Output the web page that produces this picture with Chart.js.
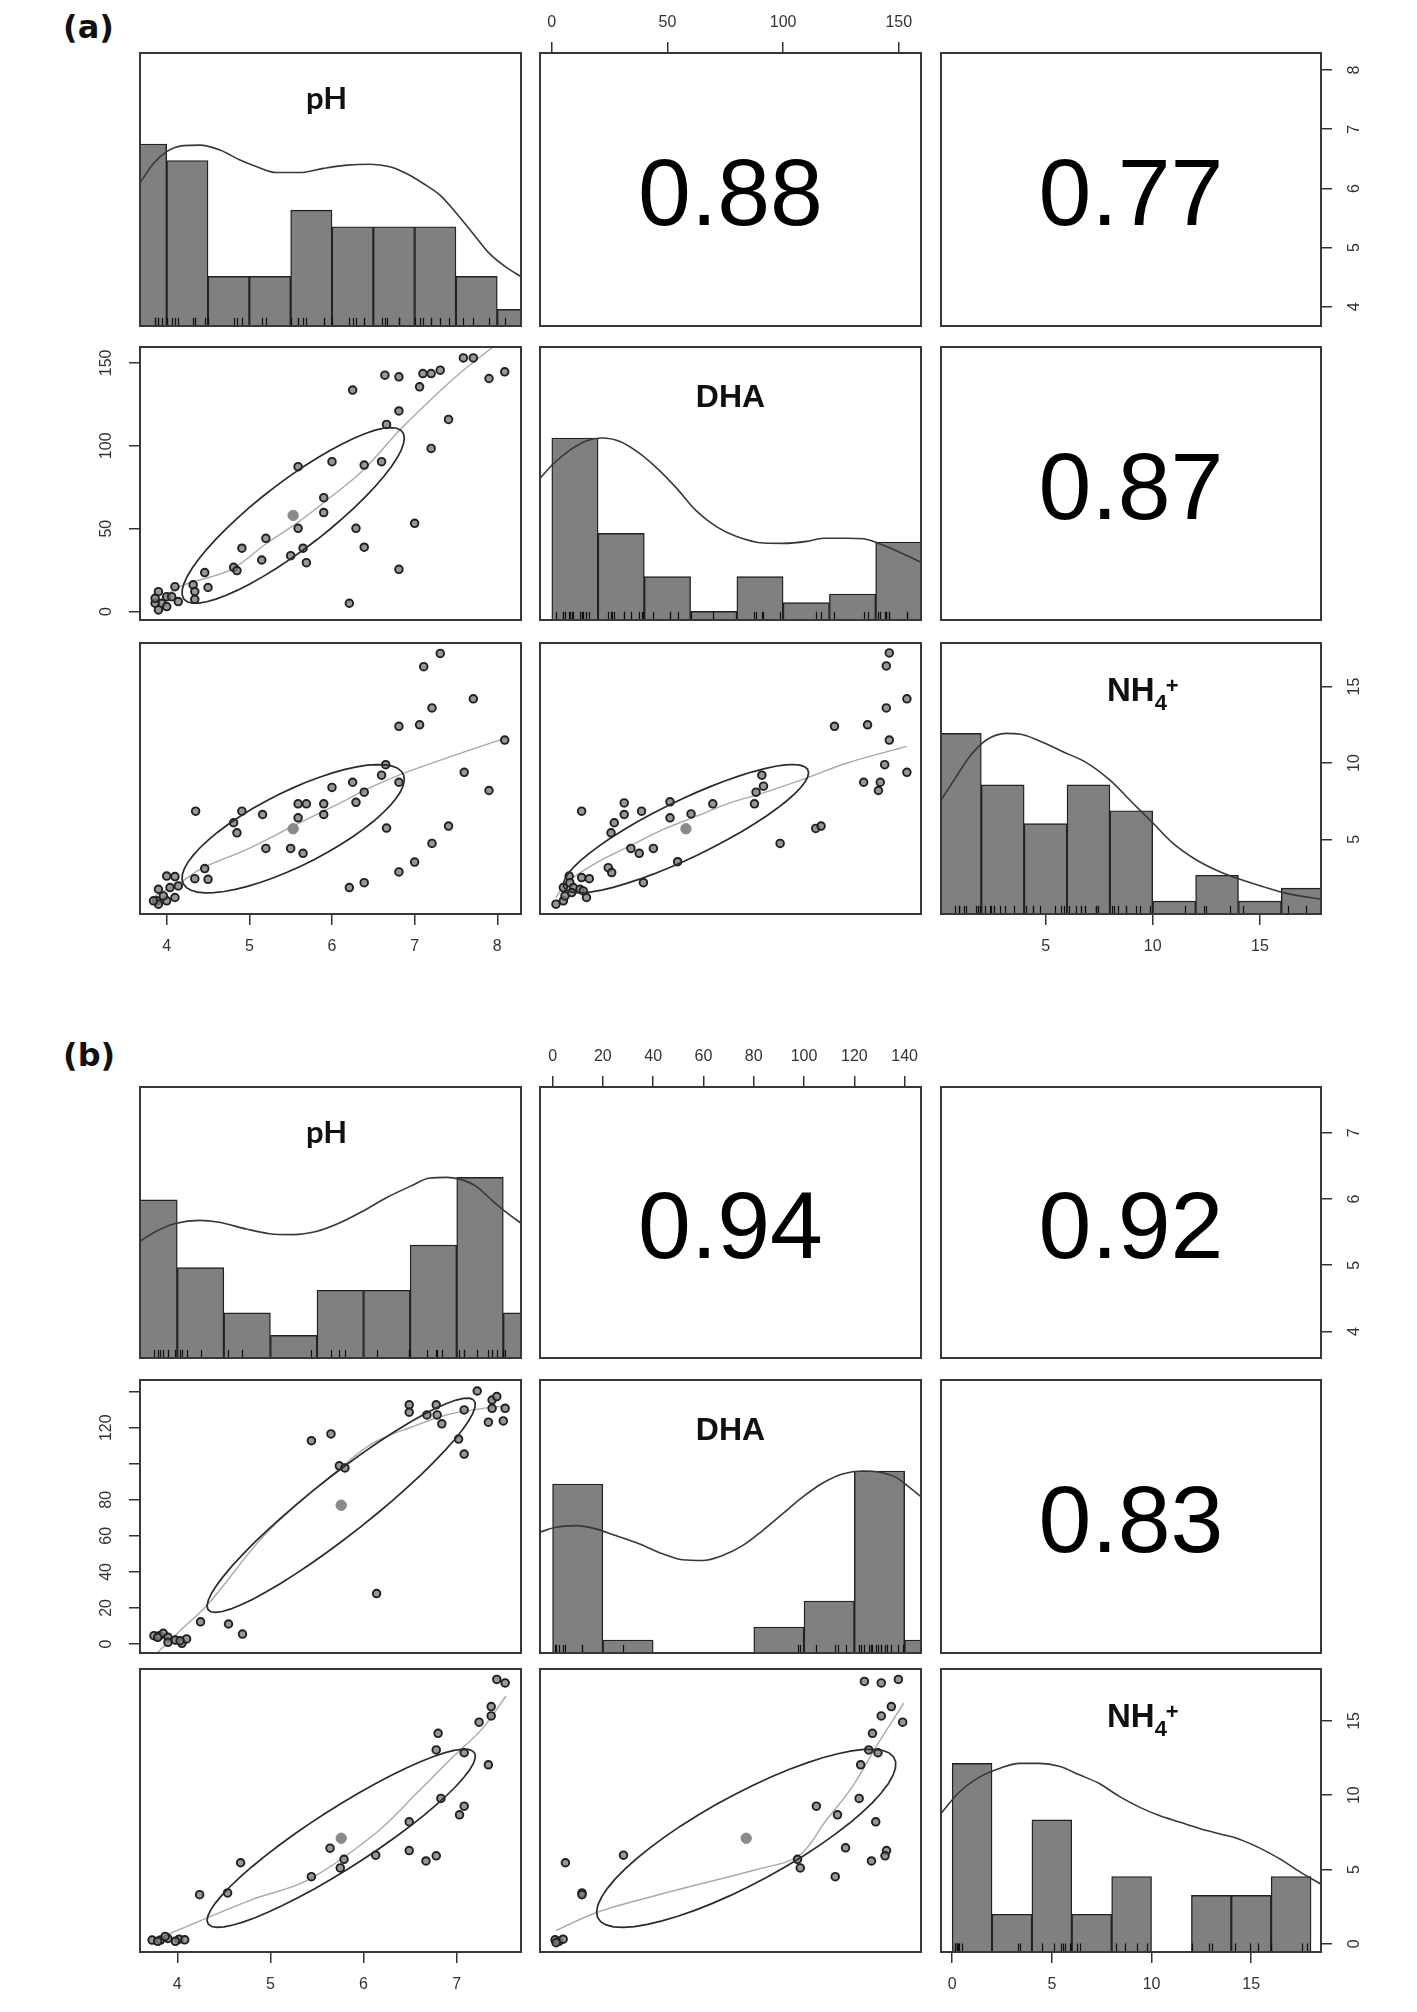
<!DOCTYPE html>
<html>
<head>
<meta charset="utf-8">
<title>pairs panels</title>
<script src="https://cdn.jsdelivr.net/npm/chart.js@4.4.1/dist/chart.umd.min.js"></script>
<style>
  html, body { margin: 0; padding: 0; background: #fff; }
  body { position: relative; width: 1417px; height: 2012px; overflow: hidden; }
  canvas { position: absolute; }
  .tag { position: absolute; left: 63px; font: bold 32px "DejaVu Sans", sans-serif; letter-spacing: 0; color: #111; line-height: 1; }
</style>
</head>
<body>
<div class="tag" style="top: 11px">(a)</div>
<div class="tag" style="top: 1039px">(b)</div>
<script>
// variable order everywhere: pH, DHA, NH4+
const NAMES = ['pH', 'DHA', 'NH4+'];

// axis limits and ticks
const limA = [[3.677, 8.287], [-5.1, 159.6], [0.12, 17.85]];
const ticksA = [[4, 5, 6, 7, 8], [0, 50, 100, 150], [5, 10, 15]];
const limB = [[3.6, 7.69], [-5, 146.5], [-0.56, 18.5]];
const ticksB = [[4, 5, 6, 7], [0, 20, 40, 60, 80, 100, 120, 140], [0, 5, 10, 15]];
const leftLabelsB = [0, 20, 40, 60, 80, 120];

// correlations (pH-DHA, pH-NH4+, DHA-NH4+), means and sds for the ellipses
const corrA = [0.88, 0.77, 0.87];
const corrB = [0.94, 0.92, 0.83];
const meanA = [5.53, 58, 5.7];
const sdA = [1.345, 53, 4.2];
const meanB = [5.76, 77, 7.1];
const sdB = [1.44, 59.5, 6.0];

// histograms
const phBreaksA = [3.5, 4, 4.5, 5, 5.5, 6, 6.5, 7, 7.5, 8, 8.5];
const phCountsA = [11, 10, 3, 3, 7, 6, 6, 6, 3, 1];
const dhaBreaksA = [0, 20, 40, 60, 80, 100, 120, 140, 160];
const dhaCountsA = [21, 10, 5, 1, 5, 2, 3, 9];
const nh4BreaksA = [0, 2, 4, 6, 8, 10, 12, 14, 16, 18];
const nh4CountsA = [14, 10, 7, 10, 8, 1, 3, 1, 2];

const phBreaksB = [3.5, 4, 4.5, 5, 5.5, 6, 6.5, 7, 7.5, 8];
const phCountsB = [7, 4, 2, 1, 3, 3, 5, 8, 2];
const dhaBreaksB = [0, 20, 40, 60, 80, 100, 120, 140, 160];
const dhaCountsB = [13, 1, 0, 0, 2, 4, 14, 1];
const nh4BreaksB = [0, 2, 4, 6, 8, 10, 12, 14, 16, 18];
const nh4CountsB = [10, 2, 7, 2, 4, 0, 3, 3, 4];

// density curves (scaled to max 1)
const densPhA = [[3.677,0.786],[3.84,0.893],[4.0,0.958],[4.2,0.991],[4.4,0.994],[4.645,0.967],[4.887,0.912],[5.09,0.875],[5.33,0.843],[5.61,0.843],[5.895,0.866],[6.18,0.884],[6.46,0.889],[6.7,0.875],[6.9,0.838],[7.105,0.783],[7.31,0.718],[7.51,0.617],[7.71,0.506],[7.91,0.396],[8.11,0.322],[8.29,0.271]];
const densDhaA = [[-5,0.78],[0.6,0.857],[7.8,0.933],[15.1,0.985],[21.5,1.0],[29.5,0.981],[38.1,0.914],[46.8,0.818],[54,0.723],[62.6,0.598],[71.3,0.512],[79.9,0.459],[91.5,0.423],[100.1,0.421],[110.2,0.432],[117.4,0.449],[127.5,0.449],[134.8,0.446],[142,0.417],[149.2,0.379],[160,0.315]];
const densNh4A = [[0.12,0.63],[0.83,0.76],[1.45,0.87],[2.23,0.963],[3.16,1.0],[3.79,0.996],[4.72,0.958],[5.81,0.898],[6.9,0.838],[7.99,0.742],[9.08,0.613],[10.02,0.502],[10.95,0.391],[12.04,0.299],[13.13,0.234],[14.07,0.192],[15.16,0.151],[16.25,0.114],[17.88,0.081]];
const densPhB = [[3.6,0.646],[3.77,0.7],[3.98,0.744],[4.24,0.762],[4.45,0.751],[4.74,0.714],[4.99,0.688],[5.24,0.683],[5.49,0.7],[5.74,0.747],[5.99,0.812],[6.24,0.886],[6.5,0.95],[6.71,0.996],[6.89,1.0],[7.03,0.99],[7.21,0.95],[7.39,0.867],[7.54,0.803],[7.69,0.747]];
const densDhaB = [[-5,0.664],[1.2,0.691],[9.2,0.7],[17.2,0.682],[25.1,0.645],[34.4,0.6],[43.7,0.545],[51.6,0.512],[59.6,0.508],[67.6,0.536],[75.5,0.59],[83.5,0.673],[91.4,0.764],[99.4,0.856],[107.4,0.934],[115.3,0.984],[123.3,1.0],[129.9,0.993],[136.5,0.965],[141.9,0.91],[146.5,0.859]];
const densNh4B = [[-0.56,0.734],[0.36,0.848],[1.36,0.927],[2.37,0.973],[3.37,1.0],[4.37,1.0],[5.37,0.984],[6.38,0.939],[7.38,0.893],[8.38,0.825],[9.39,0.768],[10.39,0.723],[11.39,0.689],[12.4,0.655],[13.4,0.627],[14.4,0.598],[15.41,0.552],[16.41,0.495],[17.41,0.427],[18.5,0.359]];

// scatter points [x, y]
const phDhaA = [[7.59,153],[7.71,153],[8.09,144.6],[7.9,140.6],[6.64,142.6],[6.81,141.6],[7.1,143.6],[7.2,143.6],[7.31,145.6],[7.06,135.6],[6.25,133.6],[6.81,121],[7.41,115.9],[6.66,112.9],[7.2,98.4],[6.0,90.4],[6.39,88.4],[6.6,90.4],[5.59,87.4],[5.9,68.7],[5.9,59.7],[5.59,50.2],[6.29,50.2],[7.0,53.2],[6.39,38.8],[5.2,44.2],[4.91,38.2],[5.15,31.1],[5.5,33.7],[5.65,38.2],[5.69,29.5],[4.81,26.7],[4.85,24.7],[6.81,25.5],[6.21,5.0],[4.46,23.5],[4.5,14.5],[4.32,16.1],[4.34,12.1],[4.34,7.4],[3.9,12],[4.1,15],[4.0,9],[3.94,5],[3.86,5],[3.9,1],[4.0,3],[4.14,6],[4.06,9],[3.86,8]];
const phNh4A = [[7.31,17.17],[7.11,16.3],[7.71,14.2],[7.21,13.6],[6.81,12.4],[7.06,12.5],[8.09,11.5],[7.6,9.39],[7.9,8.2],[6.65,9.89],[6.6,9.2],[6.81,8.74],[6.25,8.74],[6.0,8.4],[6.39,8.09],[6.29,7.43],[5.9,7.33],[5.9,6.63],[5.59,7.33],[5.69,7.33],[5.59,6.41],[5.16,6.63],[4.91,6.85],[4.81,6.09],[4.85,5.43],[4.35,6.85],[6.66,5.74],[5.2,4.41],[5.5,4.41],[5.65,4.09],[7.41,5.87],[7.21,4.74],[7.0,3.52],[6.81,2.87],[6.39,2.17],[6.21,1.85],[4.46,3.09],[4.34,2.43],[4.5,2.39],[4.0,2.6],[4.1,2.57],[4.14,1.96],[4.04,1.85],[3.9,1.74],[4.1,1.2],[4.0,0.98],[3.88,0.98],[3.9,0.76],[3.96,1.3],[3.84,0.98]];
const dhaNh4A = [[145.9,17.2],[144.6,16.35],[153.5,14.2],[144.6,13.6],[122.2,12.4],[136.5,12.5],[145.9,11.5],[153.5,9.39],[143.9,9.89],[134.8,8.74],[142,8.74],[141.2,8.2],[90.8,9.2],[91.5,8.48],[88.3,8.09],[87.6,7.33],[69.6,7.33],[60.2,6.67],[51.1,7.46],[51.1,6.41],[38.8,6.85],[31.3,7.39],[31.3,6.63],[27.0,6.09],[25.6,5.43],[12.9,6.85],[98.7,4.74],[114.1,5.72],[116.4,5.87],[34.2,4.41],[37.8,4.09],[43.9,4.41],[54.4,3.54],[24.4,3.15],[25.9,2.83],[39.6,2.17],[12.9,2.5],[16.2,2.43],[7.5,2.6],[7.8,2.17],[9.3,1.85],[5.0,1.85],[12.2,1.74],[15.0,1.2],[5.0,0.98],[1.8,0.76],[5.7,1.3],[8.6,1.52],[13.6,1.63]];

const phDhaB = [[7.22,140.4],[7.38,135.4],[7.43,137.3],[7.38,130.8],[7.52,130.8],[7.34,123.1],[7.5,123.8],[7.08,129.9],[6.49,132.7],[6.49,128.6],[6.68,127.1],[6.78,132.7],[6.79,127.1],[6.84,122.2],[7.02,113.7],[7.08,105.4],[5.44,112.8],[5.65,116.6],[5.74,98.9],[5.8,97.7],[6.14,28.0],[4.25,12.3],[4.55,11.1],[4.7,5.5],[3.75,4.6],[3.81,4.6],[3.85,5.9],[3.9,3.7],[3.9,0.9],[3.98,2.2],[4.05,0.4],[4.1,2.8],[3.79,3.7],[4.03,1.8]];
const phNh4B = [[7.43,17.8],[7.52,17.56],[7.37,15.97],[7.37,15.34],[7.24,14.92],[6.8,14.17],[6.78,13.05],[7.08,12.86],[7.34,12.05],[6.83,9.78],[7.08,9.26],[7.03,8.68],[6.49,8.21],[6.49,6.27],[6.67,5.57],[6.78,5.92],[6.13,5.96],[5.64,6.43],[5.79,5.68],[5.75,5.1],[5.44,4.51],[4.68,5.45],[4.54,3.42],[4.24,3.3],[3.73,0.24],[3.82,0.24],[3.9,0.35],[4.02,0.3],[4.08,0.26],[3.79,0.16],[3.98,0.16],[3.87,0.49]];
const dhaNh4B = [[124.0,17.66],[130.7,17.56],[137.5,17.8],[134.7,15.97],[130.7,15.34],[139.2,14.92],[127.2,14.17],[125.7,13.05],[129.4,12.86],[122.5,12.05],[121.9,9.78],[104.9,9.26],[113.3,8.68],[128.5,8.21],[116.5,6.46],[132.8,6.27],[126.8,5.57],[132.2,5.92],[97.4,5.68],[98.5,5.1],[112.4,4.51],[28.2,5.96],[5.1,5.45],[11.7,3.42],[11.7,3.3],[1.0,0.26],[2.5,0.16],[4.2,0.3],[1.4,0.07]];

// smoothers
const loessPhDhaA = [[3.88,5],[4.16,15.1],[4.77,25.1],[5.21,41.2],[5.57,53.2],[5.94,67.3],[6.38,85.4],[6.82,109.5],[7.23,129.5],[7.59,145.6],[7.95,159.7]];
const loessPhNh4A = [[3.86,1.3],[4.16,2.17],[4.44,3.15],[4.97,4.35],[5.53,5.87],[6.02,7.17],[6.5,8.48],[6.88,9.35],[7.39,10.33],[8.1,11.63]];
const loessDhaNh4A = [[1.8,1.2],[6.4,2.17],[19.4,3.48],[33.8,4.57],[48.2,5.65],[62.6,6.52],[77.1,7.39],[91.5,8.04],[110.3,9.02],[127.6,10.0],[153.5,11.09]];
const loessPhDhaB = [[3.78,-5.2],[4.03,7.4],[4.33,22.1],[4.96,61.7],[5.71,95.8],[6.1,111.5],[6.53,120.7],[6.89,127.1],[7.25,130.5],[7.5,132.1]];
const loessPhNh4B = [[3.82,0.42],[4.31,1.71],[4.81,2.99],[5.4,4.28],[6.13,7.44],[6.57,10.13],[6.98,12.7],[7.27,14.45],[7.53,16.68]];
const loessDhaNh4B = [[1.4,0.89],[18.6,2.17],[48.6,3.58],[80.7,4.98],[97.9,5.92],[108.6,8.26],[119.3,10.6],[130.0,13.64],[139.7,16.21]];

const INK = '#333333';
const FRAME = '#383838';
const COLS = [[140, 521], [540, 921], [941, 1321]];
const M = 60;   // canvas margin round each panel
const AX = 48;  // room kept for a horizontal axis with labels

const figures = [
  {
    rows: [[53, 326], [347, 620], [643, 914]],
    lim: limA, ticks: ticksA, leftLabels: ticksA[1],
    hist: [[phBreaksA, phCountsA], [dhaBreaksA, dhaCountsA], [nh4BreaksA, nh4CountsA]],
    dens: [densPhA, densDhaA, densNh4A],
    pts: { '1,0': phDhaA, '2,0': phNh4A, '2,1': dhaNh4A },
    smooth: { '1,0': loessPhDhaA, '2,0': loessPhNh4A, '2,1': loessDhaNh4A },
    mean: meanA, sd: sdA, corr: corrA
  },
  {
    rows: [[1087, 1358], [1380, 1653], [1669, 1952]],
    lim: limB, ticks: ticksB, leftLabels: leftLabelsB,
    hist: [[phBreaksB, phCountsB], [dhaBreaksB, dhaCountsB], [nh4BreaksB, nh4CountsB]],
    dens: [densPhB, densDhaB, densNh4B],
    pts: { '1,0': phDhaB, '2,0': phNh4B, '2,1': dhaNh4B },
    smooth: { '1,0': loessPhDhaB, '2,0': loessPhNh4B, '2,1': loessDhaNh4B },
    mean: meanB, sd: sdB, corr: corrB
  }
];

function axis(lim, ticks, pos, show) {
  const horiz = pos === 'top' || pos === 'bottom';
  return {
    type: 'linear', axis: horiz ? 'x' : 'y', position: pos,
    min: lim[0], max: lim[1], display: show, offset: false,
    afterBuildTicks: s => { s.ticks = ticks.map(v => ({ value: v })); },
    afterFit: s => { if (horiz) s.height = show ? AX : 0; else s.width = 0; },
    grid: { display: true, drawOnChartArea: false, drawTicks: true, tickLength: 11, color: INK, lineWidth: 1.5, offset: false },
    border: { display: false },
    ticks: {
      display: horiz, autoSkip: false, maxRotation: 0, minRotation: 0,
      padding: pos === 'top' ? 10 : 12, color: INK,
      font: { family: 'Liberation Sans', size: 16 }
    }
  };
}

function rugValues(fig, v) {
  if (v === 0) return fig.pts['1,0'].map(p => p[0]);
  if (v === 1) return fig.pts['2,1'].map(p => p[0]);
  return fig.pts['2,0'].map(p => p[1]);
}

function drawName(ctx, a, v) {
  ctx.fillStyle = '#111';
  ctx.textBaseline = 'alphabetic';
  if (v === 0) {
    ctx.font = 'bold 31px Lato';
    ctx.textAlign = 'center';
    ctx.fillText(NAMES[0], a.left + a.width / 2 - 4, a.top + 56);
  } else if (v === 1) {
    ctx.font = 'bold 32px "Liberation Sans"';
    ctx.textAlign = 'center';
    ctx.fillText(NAMES[1], a.left + a.width / 2, a.top + 60);
  } else {
    const x = a.left + 166, y = a.top + 58;
    ctx.textAlign = 'left';
    ctx.font = 'bold 33px "Liberation Sans"';
    ctx.fillText('NH', x, y);
    const w = ctx.measureText('NH').width;
    ctx.font = 'bold 22px "Liberation Sans"';
    ctx.fillText('4', x + w, y + 9);
    ctx.fillText('+', x + w + 11, y - 8);
  }
}

function makePlugin(o) {
  return {
    id: 'pp',
    afterDatasetsDraw(chart) {
      const { ctx, chartArea: a } = chart;
      const xs = chart.scales.x, ys = chart.scales.y;
      ctx.save();
      ctx.beginPath();
      ctx.rect(a.left, a.top, a.width, a.height);
      ctx.clip();
      if (o.rug) {
        ctx.strokeStyle = '#111';
        ctx.lineWidth = 1.2;
        const len = a.height * 0.03;
        o.rug.forEach(v => {
          const px = Math.round(xs.getPixelForValue(v)) + 0.5;
          ctx.beginPath();
          ctx.moveTo(px, a.bottom);
          ctx.lineTo(px, a.bottom - len);
          ctx.stroke();
        });
      }
      if (o.ell) {
        // correlation ellipse, one sd round the means
        const { xm, ym, xsd, ysd, r } = o.ell;
        const th = 1 / Math.sqrt(2), p = Math.sqrt(1 + r), q = Math.sqrt(1 - r);
        ctx.beginPath();
        for (let k = 0; k <= 51; k++) {
          const t = k * 2 * Math.PI / 51, c = Math.cos(t), s = Math.sin(t);
          const ex = (c * p * th - s * q * th) * xsd + xm;
          const ey = (c * p * th + s * q * th) * ysd + ym;
          const px = xs.getPixelForValue(ex), py = ys.getPixelForValue(ey);
          if (k) ctx.lineTo(px, py); else ctx.moveTo(px, py);
        }
        ctx.strokeStyle = '#2a2a2a';
        ctx.lineWidth = 1.7;
        ctx.stroke();
      }
      ctx.restore();
    },
    afterDraw(chart) {
      const { ctx, chartArea: a } = chart;
      ctx.save();
      ctx.strokeStyle = FRAME;
      ctx.lineWidth = 2;
      ctx.strokeRect(a.left, a.top, a.width, a.height);
      if (o.corr != null) {
        ctx.fillStyle = '#000';
        ctx.font = '95px "Liberation Sans"';
        ctx.textAlign = 'center';
        ctx.textBaseline = 'middle';
        ctx.fillText(o.corr.toFixed(2), a.left + a.width / 2, a.top + a.height / 2 + 9);
      }
      if (o.name != null) drawName(ctx, a, o.name);
      if (o.rot) {
        // vertical axis labels, read bottom to top as in R
        const s = chart.scales[o.rot.id];
        ctx.fillStyle = INK;
        ctx.font = '16px "Liberation Sans"';
        ctx.textAlign = 'center';
        ctx.textBaseline = 'middle';
        const x = o.rot.side === 'right' ? a.right + 34 : a.left - 33;
        s.ticks.forEach(t => {
          if (!o.rot.labels.includes(t.value)) return;
          ctx.save();
          ctx.translate(x, s.getPixelForValue(t.value));
          ctx.rotate(-Math.PI / 2);
          ctx.fillText(String(t.value), 0, 0);
          ctx.restore();
        });
      }
      ctx.restore();
    }
  };
}

function panel(fig, i, j) {
  const [x0, x1] = COLS[j], [y0, y1] = fig.rows[i];
  const w = x1 - x0 + 2 * M, h = y1 - y0 + 2 * M;
  const cv = document.createElement('canvas');
  cv.width = w; cv.height = h;
  cv.style.left = (x0 - M) + 'px';
  cv.style.top = (y0 - M) + 'px';
  cv.style.width = w + 'px';
  cv.style.height = h + 'px';
  document.body.appendChild(cv);

  const xp = (i === 0 && j === 1) ? 'top' : (i === 2 && j !== 1) ? 'bottom' : null;
  const yp = (j === 0 && i === 1) ? 'left' : (j === 2 && i !== 1) ? 'right' : null;
  const yLabels = yp === 'left' ? fig.leftLabels : fig.ticks[i];
  const scales = { x: axis(fig.lim[j], fig.ticks[j], xp || 'bottom', !!xp) };
  const o = {};
  const datasets = [];
  let type = 'scatter';

  if (i === j) {
    type = 'bar';
    scales.y = { type: 'linear', axis: 'y', min: 0, max: 1.5, display: false };
    if (yp) {
      scales.yv = axis(fig.lim[i], fig.ticks[i], yp, true);
      o.rot = { id: 'yv', side: yp, labels: yLabels };
    }
    const [br, cnt] = fig.hist[i];
    const top = Math.max(...cnt);
    datasets.push({
      type: 'line', xAxisID: 'x', yAxisID: 'y',
      data: fig.dens[i].map(([x, y]) => ({ x, y })),
      borderColor: '#383838', borderWidth: 1.6, pointRadius: 0,
      cubicInterpolationMode: 'monotone', fill: false, clip: 0
    });
    datasets.push({
      type: 'bar', xAxisID: 'x', yAxisID: 'y',
      data: cnt.map((c, k) => ({ x: (br[k] + br[k + 1]) / 2, y: c / top })),
      backgroundColor: '#808080', borderColor: '#222222', borderWidth: 1.4,
      borderSkipped: false, barPercentage: 1, categoryPercentage: 1, clip: 0
    });
    o.rug = rugValues(fig, i);
    o.name = i;
  } else {
    scales.y = axis(fig.lim[i], fig.ticks[i], yp || 'left', !!yp);
    if (yp) o.rot = { id: 'y', side: yp, labels: yLabels };
    const r = fig.corr[i + j - 1];
    if (i > j) {
      const key = i + ',' + j;
      datasets.push({
        type: 'scatter', data: [{ x: fig.mean[j], y: fig.mean[i] }],
        pointRadius: 5.2, pointBackgroundColor: '#8a8a8a', pointBorderColor: '#8a8a8a', pointBorderWidth: 1, clip: 0
      });
      datasets.push({
        type: 'scatter', data: fig.pts[key].map(([x, y]) => ({ x, y })),
        pointRadius: 3.8, pointBorderWidth: 1.9, pointBorderColor: '#1f1f1f',
        pointBackgroundColor: 'rgba(125,125,125,0.8)', clip: 0
      });
      datasets.push({
        type: 'line', data: fig.smooth[key].map(([x, y]) => ({ x, y })),
        borderColor: '#a9a9a9', borderWidth: 1.4, pointRadius: 0, tension: 0.35, fill: false, clip: 0
      });
      o.ell = { xm: fig.mean[j], ym: fig.mean[i], xsd: fig.sd[j], ysd: fig.sd[i], r };
    } else {
      o.corr = r;
    }
  }

  new Chart(cv, {
    type,
    data: { datasets },
    options: {
      responsive: false, animation: false, devicePixelRatio: 1, events: [],
      layout: {
        padding: {
          left: M, right: M,
          top: xp === 'top' ? M - AX : M,
          bottom: xp === 'bottom' ? M - AX : M
        }
      },
      scales,
      plugins: { legend: { display: false }, tooltip: { enabled: false } }
    },
    plugins: [makePlugin(o)]
  });
}

figures.forEach(fig => {
  for (let i = 0; i < 3; i++) for (let j = 0; j < 3; j++) panel(fig, i, j);
});
</script>
</body>
</html>
